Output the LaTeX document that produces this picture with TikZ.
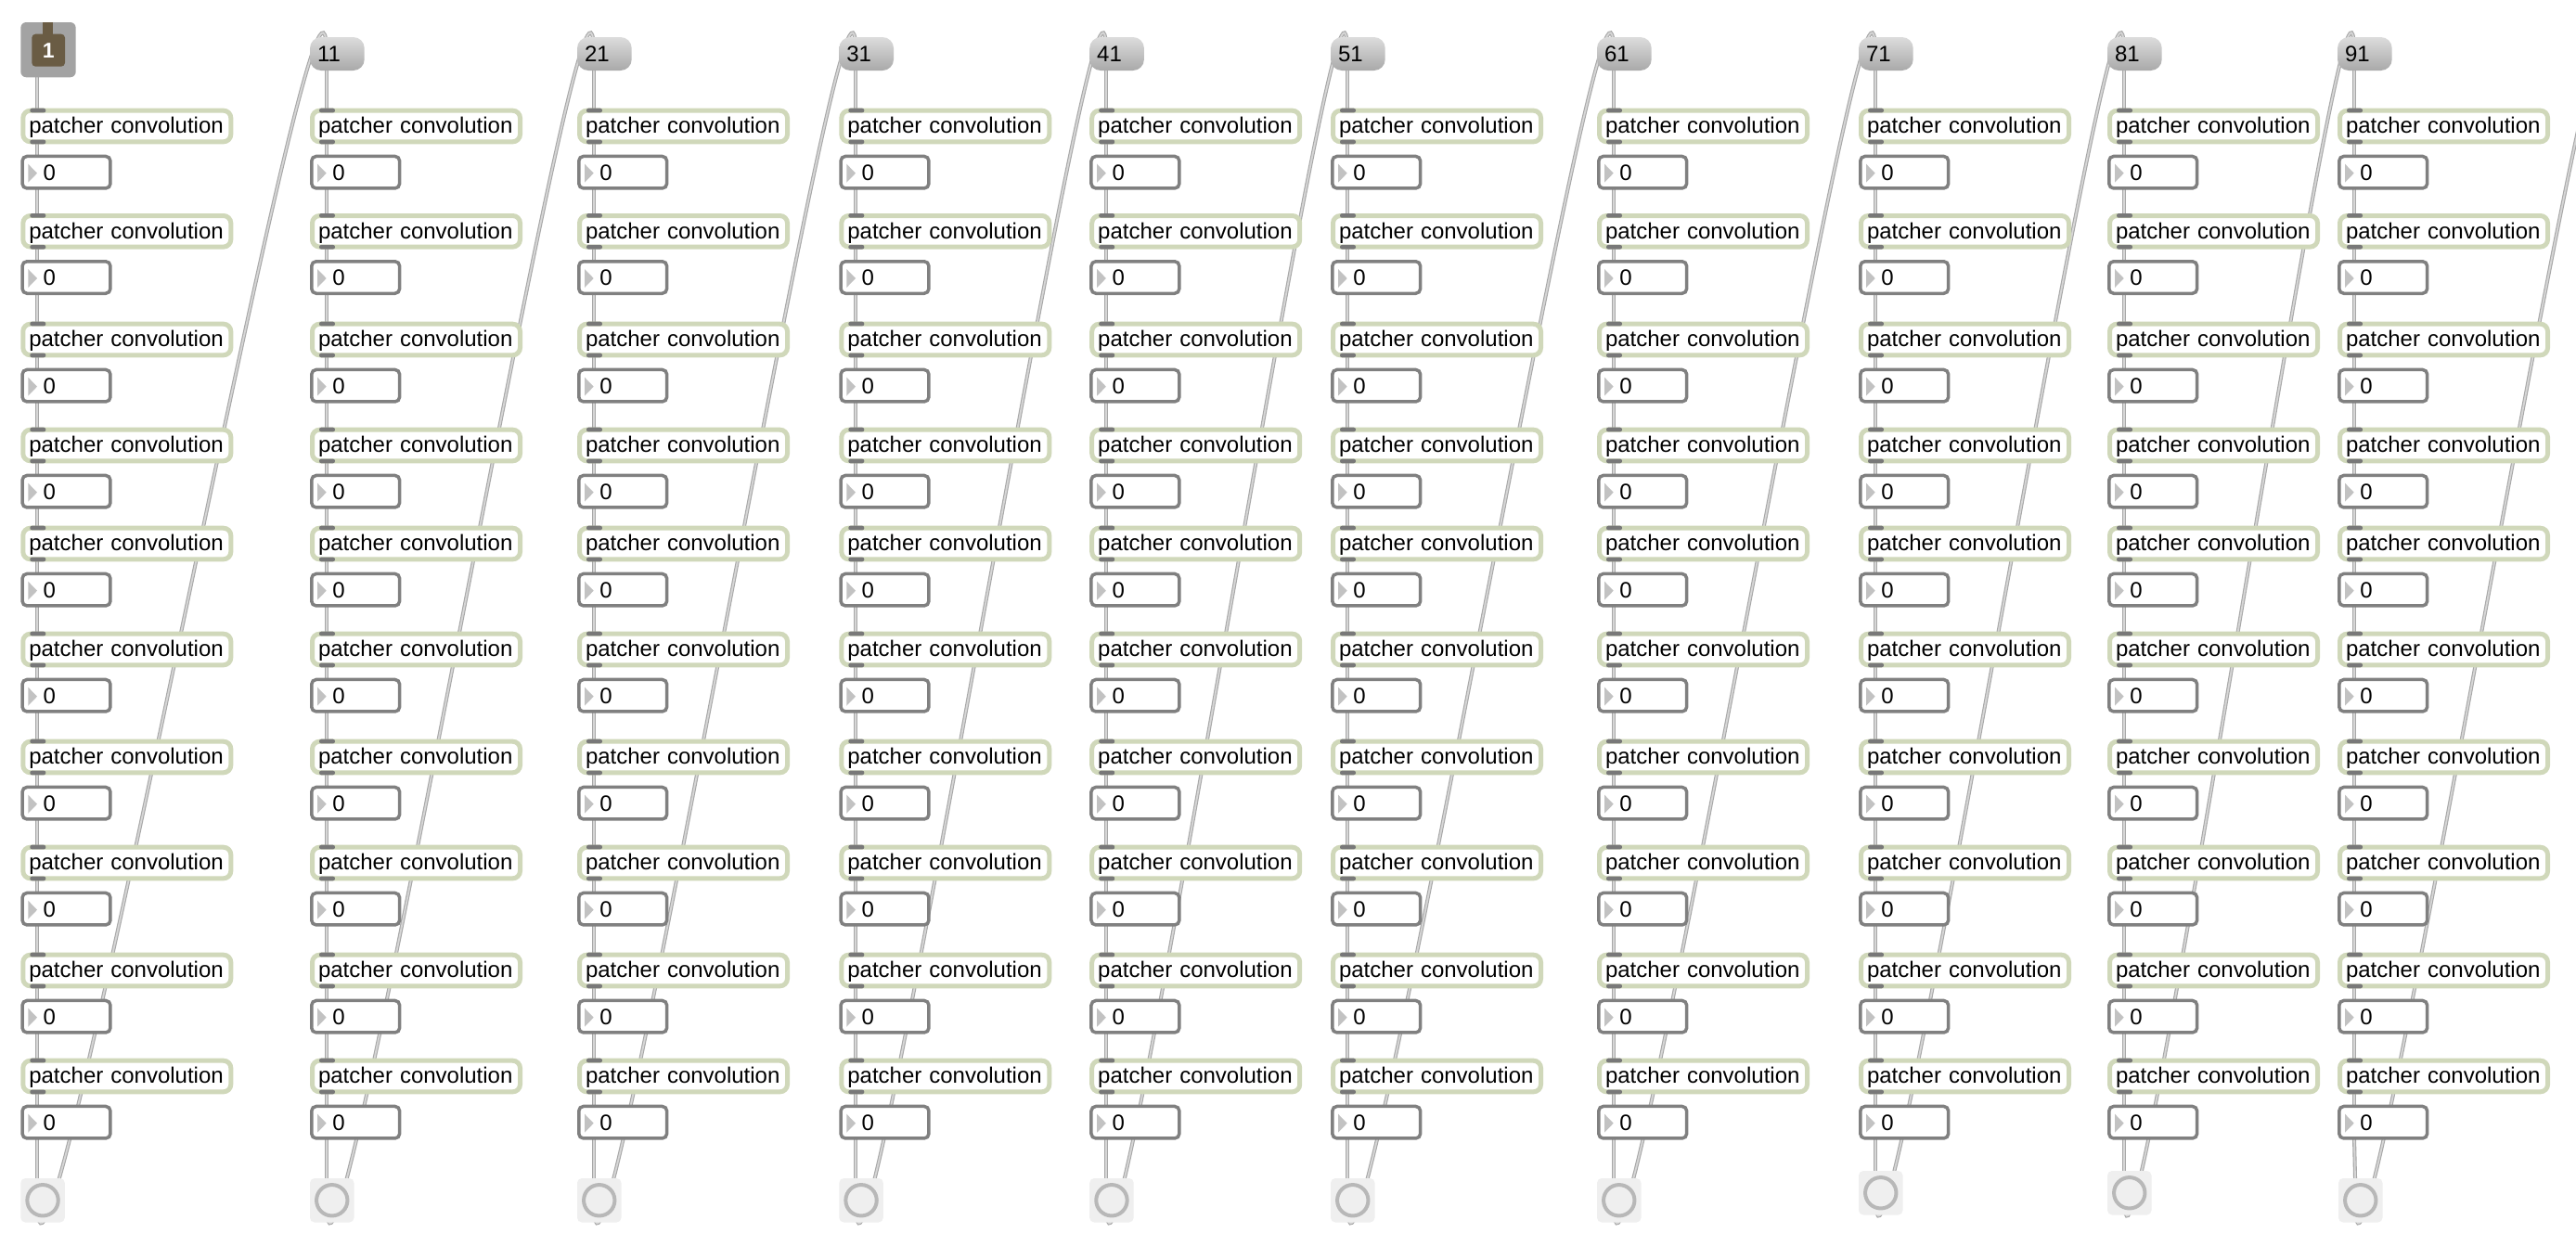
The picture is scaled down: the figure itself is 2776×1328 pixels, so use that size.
\documentclass[tikz,border=0pt]{standalone}
\usepackage{fontspec}
\setmainfont{Liberation Sans}
\pgfdeclarelayer{back}
\pgfdeclarelayer{cords}
\pgfsetlayers{back,cords,main}
\definecolor{pgreen}{HTML}{D0D8BA}
\definecolor{portgray}{HTML}{787878}
\definecolor{nborder}{HTML}{808080}
\definecolor{trigray}{HTML}{C2C2C2}
\definecolor{btnbg}{HTML}{EFEFEF}
\definecolor{btnring}{HTML}{B8B8B8}
\definecolor{msgtop}{HTML}{DCDCDC}
\definecolor{msgbot}{HTML}{A9A9A9}
\definecolor{bangout}{HTML}{A3A3A3}
\definecolor{bangbrown}{HTML}{6A5C44}
\definecolor{cordout}{HTML}{A8A8A8}
\definecolor{cordin}{HTML}{D6D6D6}
\tikzset{
 patbox/.style={draw=pgreen, line width=2.5pt, rounded corners=4pt, fill=white, anchor=north west, outer sep=0pt, inner ysep=0pt, inner xsep=3.25pt, text width=105.5pt, align=left, minimum height=16.8pt, text height=9pt, text depth=1.3pt},
 numbox/.style={draw=nborder, line width=1.75pt, rounded corners=2.5pt, fill=white, anchor=north west, outer sep=0pt, inner ysep=0pt, inner xsep=11.325pt, text width=24.8pt, align=left, minimum height=17.25pt, text height=9pt, text depth=0.65pt},
 msgbox/.style={top color=msgtop, bottom color=msgbot, draw=none, rounded corners=6pt, anchor=north west, outer sep=0pt, inner ysep=0pt, inner xsep=4pt, text width=21.35pt, align=left, minimum height=18pt, text height=9pt, text depth=0.5pt},
 btnbox/.style={fill=btnbg, rounded corners=2.5pt, minimum size=23.75pt, inner sep=0pt, outer sep=0pt, anchor=north west},
 ringnode/.style={circle, draw=btnring, line width=2pt, minimum size=16.7pt, inner sep=0pt},
 cord/.style={draw=cordout, line width=0.55pt, double=cordin, double distance=0.9pt},
 ioport/.style={fill=portgray, rounded corners=1.1pt},
}
\begin{document}
\begin{tikzpicture}[x=0.5pt,y=-0.5pt,font=\fontsize{12}{14}\selectfont]
\useasboundingbox (0,0) rectangle (2776,1328);
\begin{pgfonlayer}{back}
\fill[white] (0,0) rectangle (2776,1328);
\end{pgfonlayer}
% columns of patcher / number boxes
\foreach \L [count=\c] in {22.3,334,622,904.3,1174.2,1434,1721,2003,2271,2519} {
  \foreach \P [count=\r] in {116.7,230,346.7,460.7,566.7,680.7,796.7,910.7,1026.7,1140.7} {
    \node[patbox] (p-\c-\r) at (\L+2.5,\P+2.5) {patcher convolution};
    \fill[ioport] (\L+10,\P) rectangle (\L+27,\P+4.7);
    \fill[ioport] (\L+10,\P+33.9) rectangle (\L+27,\P+38.6);
    \node[numbox] (n-\c-\r) at (\L+1.75,\P+51.75) {0};
    \fill[trigray] (\L+8,\P+60) -- (\L+17.7,\P+70) -- (\L+8,\P+80) -- cycle;
  }
}
% bottom buttons
\foreach \L/\T [count=\c] in {22.3/1270,334/1270,622/1270,904.3/1270,1174.2/1270,1434/1270,1721/1270,2003/1262,2271/1262,2520/1270} {
  \node[btnbox] (b-\c) at (\L,\T) {};
  \node[ringnode] (r-\c) at (b-\c.center) {};
}
% top: bang-like box and message boxes
\node[fill=bangout, rounded corners=3pt, minimum width=29.7pt, minimum height=29.65pt, inner sep=0pt, outer sep=0pt, anchor=north west] (bang) at (22.3,24) {};
\fill[bangbrown] (46,24) rectangle (57.3,40);
\node[fill=bangbrown, rounded corners=2pt, minimum width=17.85pt, minimum height=17.5pt, inner sep=0pt, outer sep=0pt, anchor=north west, text=white, font=\bfseries\fontsize{11.5}{12}\selectfont] (bangtxt) at (34.3,36.7) {1};
\foreach \L/\t [count=\i from 2] in {334/11,622/21,904.3/31,1174.2/41,1434/51,1721/61,2003/71,2271/81,2519/91} {
  \node[msgbox] (m-\i) at (\L,40) {\t};
}
\coordinate (tail) at (2812,60);
% cords
\begin{pgfonlayer}{cords}
\draw[cord] ([xshift=9pt]bang.south west) -- ([xshift=7.75pt]p-1-1.north west);
\foreach \i in {2,...,10} {
  \draw[cord] ([xshift=9pt]m-\i.south west) -- ([xshift=7.75pt]p-\i-1.north west);
}
\foreach \c in {1,...,10} {
  \foreach \r in {1,...,10} {
    \draw[cord] ([xshift=7.75pt]p-\c-\r.south west) -- ([xshift=8.125pt]n-\c-\r.north west);
  }
  \foreach \r [evaluate=\r as \d using int(\r+1)] in {1,...,9} {
    \draw[cord] ([xshift=8.125pt]n-\c-\r.south west) -- ([xshift=7.75pt]p-\c-\d.north west);
  }
  \draw[cord] ([xshift=8.125pt]n-\c-10.south west) -- ([xshift=9pt]b-\c.north west);
}
\foreach \c [evaluate=\c as \d using int(\c+1)] in {1,...,9} {
  \draw[cord] ([xshift=-2.9pt]b-\c.center) .. controls +(0,250) and +(0,-250) .. ([xshift=9pt,yshift=-10pt]m-\d.north west);
}
\draw[cord] ([xshift=-2.9pt]b-10.center) .. controls +(0,250) and +(0,-250) .. (tail);
\end{pgfonlayer}
\end{tikzpicture}
\end{document}
